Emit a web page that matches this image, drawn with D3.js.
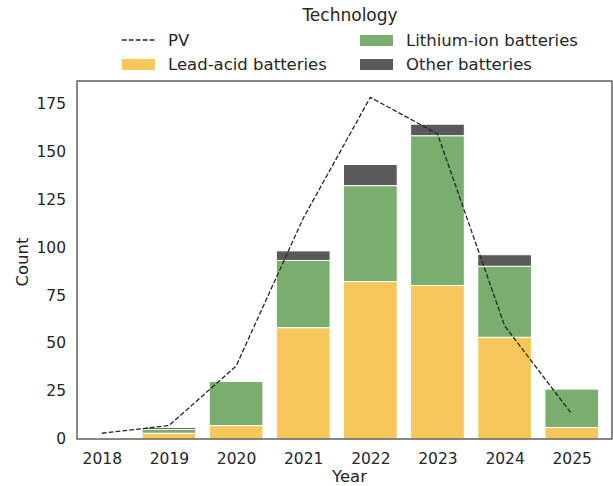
<!DOCTYPE html>
<html>
<head>
<meta charset="utf-8">
<script src="https://cdn.jsdelivr.net/npm/d3@7"></script>
<style>
  body { margin: 0; background: #fff; }
  text { font-family: "DejaVu Sans", sans-serif; fill: #262626; }
</style>
</head>
<body>
<svg width="613" height="486"></svg>
<script>
const years = ["2018", "2019", "2020", "2021", "2022", "2023", "2024", "2025"];
const leadAcid = [0, 3, 7, 58, 82, 80, 53, 6];
const lithiumIon = [0, 2, 23, 35, 50, 78, 37, 20];
const otherBatt = [0, 1, 0, 5, 11, 6, 6, 0];
const pvCounts = [3, 7, 38, 115, 178, 159, 59, 13];
const yTicks = [0, 25, 50, 75, 100, 125, 150, 175];

const seriesNames = ["Lead-acid batteries", "Lithium-ion batteries", "Other batteries"];
const colors = ["#f6c75b", "#7aae6e", "#595959"];

const svg = d3.select("svg");
const plotLeft = 77, plotRight = 612, plotTop = 81, plotBottom = 439;

// x centres on a linear scale (index), so the frame margins match
const x = d3.scaleLinear().domain([-0.37, 7.6]).range([plotLeft, plotRight]);
const y = d3.scaleLinear().domain([0, 186.5]).range([plotBottom, plotTop]);
const barW = x(0.8) - x(0);

const table = years.map(function(yr, i) {
  return { i: i, year: yr, "Lead-acid batteries": leadAcid[i],
           "Lithium-ion batteries": lithiumIon[i], "Other batteries": otherBatt[i] };
});
const stacked = d3.stack().keys(seriesNames)(table);

const g = svg.append("g");

g.selectAll(".layer")
  .data(stacked)
  .join("g")
  .attr("class", "layer")
  .attr("fill", function(d, k) { return colors[k]; })
  .selectAll("rect")
  .data(function(d) { return d.filter(function(p) { return p[1] > p[0]; }); })
  .join("rect")
  .attr("x", function(p) { return x(p.data.i) - barW / 2; })
  .attr("y", function(p) { return y(p[1]); })
  .attr("width", barW)
  .attr("height", function(p) { return y(p[0]) - y(p[1]); })
  .attr("stroke", "#fff")
  .attr("stroke-width", 1);

// PV dashed line
const line = d3.line()
  .x(function(d, i) { return x(i); })
  .y(function(d) { return y(d); });

g.append("path")
  .datum(pvCounts)
  .attr("d", line)
  .attr("fill", "none")
  .attr("stroke", "#262626")
  .attr("stroke-width", 1.3)
  .attr("stroke-dasharray", "4.8,2.1");

// frame
svg.append("rect")
  .attr("x", plotLeft).attr("y", plotTop)
  .attr("width", plotRight - plotLeft).attr("height", plotBottom - plotTop)
  .attr("fill", "none")
  .attr("stroke", "#404040")
  .attr("stroke-width", 1.25);

// axes (no tick marks)
const xAxis = svg.append("g")
  .attr("transform", "translate(0," + plotBottom + ")")
  .call(d3.axisBottom(x).tickValues(d3.range(years.length))
    .tickFormat(function(i) { return years[i]; }).tickSize(0).tickPadding(14));
const yAxis = svg.append("g")
  .attr("transform", "translate(" + plotLeft + ",0)")
  .call(d3.axisLeft(y).tickValues(yTicks).tickSize(0).tickPadding(11));
[xAxis, yAxis].forEach(function(ax) {
  ax.select(".domain").remove();
  ax.selectAll("text").style("font-size", "15.5px").attr("fill", "#262626");
});

svg.append("text")
  .attr("x", (plotLeft + plotRight) / 2 + 5).attr("y", 482)
  .attr("text-anchor", "middle")
  .style("font-size", "16.5px")
  .text("Year");

svg.append("text")
  .attr("transform", "translate(28,262) rotate(-90)")
  .attr("text-anchor", "middle")
  .style("font-size", "16.5px")
  .text("Count");

// legend
const legend = svg.append("g");
legend.append("text")
  .attr("x", 350).attr("y", 21)
  .attr("text-anchor", "middle")
  .style("font-size", "17px")
  .text("Technology");

const legendItems = [
  { name: "PV", kind: "line", col: 0, row: 0 },
  { name: seriesNames[0], kind: "patch", color: colors[0], col: 0, row: 1 },
  { name: seriesNames[1], kind: "patch", color: colors[1], col: 1, row: 0 },
  { name: seriesNames[2], kind: "patch", color: colors[2], col: 1, row: 1 }
];
const colX = [122, 360], rowY = [40, 64];

legendItems.forEach(function(it) {
  const lx = colX[it.col], ly = rowY[it.row];
  if (it.kind === "line") {
    legend.append("line")
      .attr("x1", lx).attr("x2", lx + 33)
      .attr("y1", ly).attr("y2", ly)
      .attr("stroke", "#262626")
      .attr("stroke-width", 1.3)
      .attr("stroke-dasharray", "4.8,2.1");
  } else {
    legend.append("rect")
      .attr("x", lx).attr("y", ly - 5)
      .attr("width", 33).attr("height", 11)
      .attr("fill", it.color);
  }
  legend.append("text")
    .attr("x", lx + 46).attr("y", ly + 6)
    .style("font-size", "16.5px")
    .text(it.name);
});
</script>
</body>
</html>
